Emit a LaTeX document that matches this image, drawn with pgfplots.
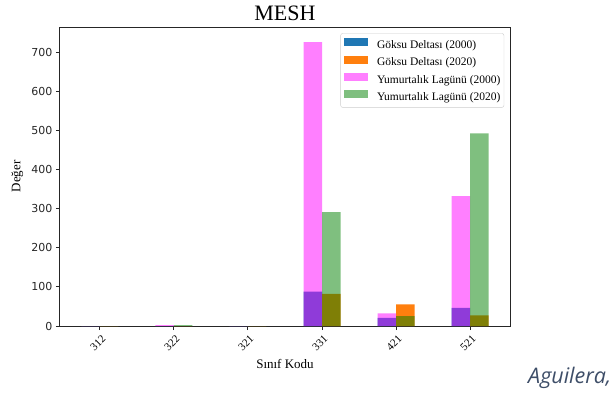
\documentclass[border=0pt]{standalone}
\usepackage{pgfplots}
\pgfplotsset{compat=1.18}
\usepackage{fontspec}
\setmainfont{Liberation Serif}
\newfontfamily\dejavu{DejaVu Sans}
\newfontfamily\opensans{Open Sans}
\definecolor{mplblue}{HTML}{1F77B4}
\definecolor{mplorange}{HTML}{FF7F0E}
\definecolor{mplmag}{HTML}{FF00FF}
\definecolor{mplgreen}{HTML}{008000}
\definecolor{capcol}{HTML}{3E4E68}
\definecolor{axcol}{HTML}{262626}
\begin{document}
\begin{tikzpicture}[x=1pt,y=1pt]
\useasboundingbox (0,0) rectangle (613,394);
\begin{axis}[
  at={(60pt,68pt)}, anchor=south west,
  width=450pt, height=299pt, scale only axis,
  xmin=-0.54, xmax=5.54, ymin=0, ymax=764,
  xtick={0,1,2,3,4,5},
  xticklabels={312,322,321,331,421,521},
  ytick={0,100,...,700},
  tick align=outside, xtick pos=bottom, ytick pos=left,
  major tick length=4pt,
  axis line style={line width=1pt, axcol},
  every tick/.style={line width=1pt, axcol},
  /pgf/number format/assume math mode=true,
  yticklabel style={font=\dejavu\fontsize{11}{13}\selectfont, color=axcol},
  xticklabel style={font=\fontsize{11}{12}\selectfont, yshift=-13pt, xshift=-2pt, rotate=45, anchor=center},
  title={MESH},
  title style={font=\fontsize{22}{24}\selectfont, at={(axis description cs:0.5,1.0234)}, anchor=base, yshift=-6pt},
  xlabel={Sınıf Kodu},
  xlabel style={font=\fontsize{13}{15}\selectfont, at={(axis description cs:0.5,-0.1438)}, anchor=base},
  ylabel={Değer},
  ylabel style={font=\fontsize{13}{15}\selectfont, at={(axis description cs:-0.0878,0.5)}, anchor=base},
  legend style={at={(0.987,0.979)}, anchor=north east, draw=black!20, rounded corners=2pt,
    font=\fontsize{11.5}{13}\selectfont, fill=white, inner xsep=3.5pt, inner ysep=5pt,
    row sep=5.3pt, column sep=9pt, nodes={inner sep=0pt, text height=8pt, text depth=2pt}},
  legend cell align=left,
  legend image code/.code={\fill[#1, sharp corners] (0pt,-1pt) rectangle (24pt,7pt);},
]
\addplot[ybar, bar width=0.25, bar shift=-0.125, fill=mplblue, draw=none]
  coordinates {(0,0) (1,0) (2,0) (3,88) (4,21) (5,46)};
\addlegendentry{Göksu Deltası (2000)}
\addplot[ybar, bar width=0.25, bar shift=0.125, fill=mplorange, draw=none]
  coordinates {(0,0) (1,0) (2,0) (3,82) (4,55) (5,27)};
\addlegendentry{Göksu Deltası (2020)}
\addplot[ybar, bar width=0.25, bar shift=-0.125, fill=mplmag, fill opacity=0.5, draw=none]
  coordinates {(0,0) (1,2) (2,0) (3,725.5) (4,32) (5,332)};
\addlegendentry{Yumurtalık Lagünü (2000)}
\addplot[ybar, bar width=0.25, bar shift=0.125, fill=mplgreen, fill opacity=0.5, draw=none]
  coordinates {(0,0) (1,2) (2,0) (3,291) (4,25) (5,492)};
\addlegendentry{Yumurtalık Lagünü (2020)}
\end{axis}
\node[anchor=base west, inner sep=0pt, font=\opensans\itshape\fontsize{21.5}{23}\selectfont, text=capcol] at (528,10.7) {Aguilera,};
\end{tikzpicture}
\end{document}
